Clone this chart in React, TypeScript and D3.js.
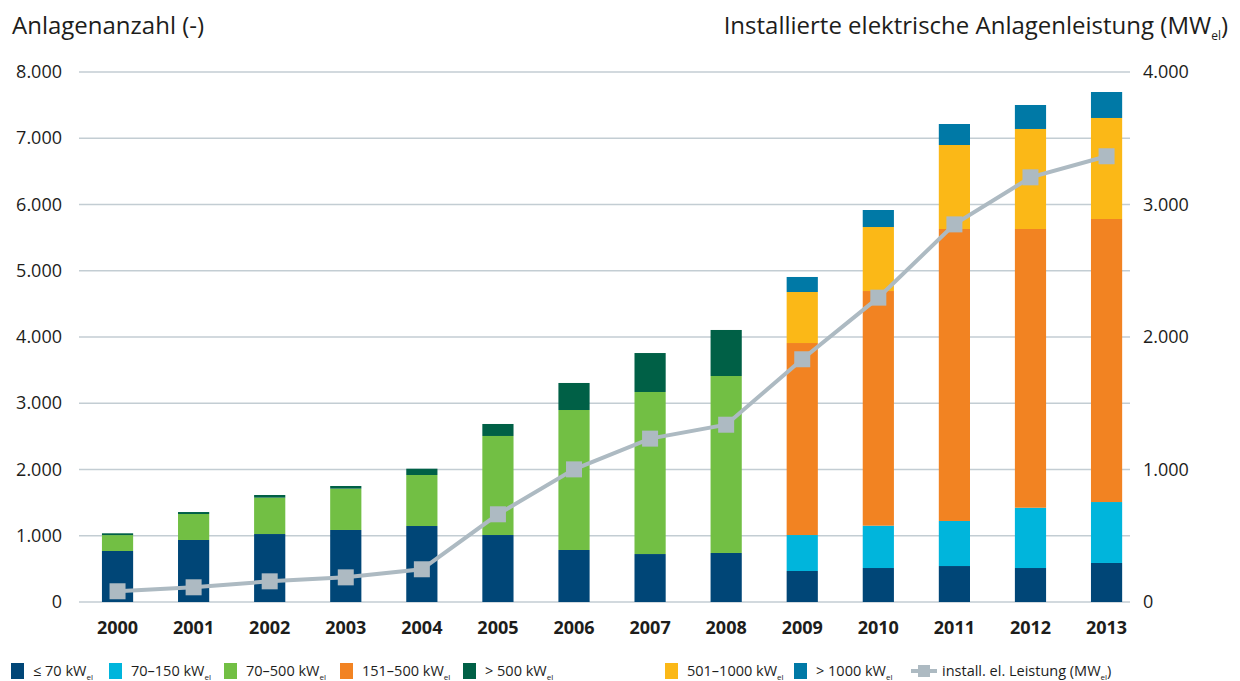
import React from "react";
import * as d3 from "d3";

const years = ["2000","2001","2002","2003","2004","2005","2006","2007","2008","2009","2010","2011","2012","2013"];
const s70 = [770, 936, 1026, 1087, 1147, 1011, 785, 724, 740, 468, 513, 543, 513, 589];
const s70to150 = [0, 0, 0, 0, 0, 0, 0, 0, 0, 543, 639, 680, 910, 920];
const s70to500 = [240, 392, 549, 624, 770, 1495, 2113, 2446, 2671, 0, 0, 0, 0, 0];
const s151to500 = [0, 0, 0, 0, 0, 0, 0, 0, 0, 2898, 3542, 4407, 4207, 4272];
const sOver500 = [27, 30, 40, 40, 95, 181, 408, 588, 695, 0, 0, 0, 0, 0];
const s501to1000 = [0, 0, 0, 0, 0, 0, 0, 0, 0, 770, 966, 1268, 1510, 1525];
const sOver1000 = [0, 0, 0, 0, 0, 0, 0, 0, 0, 227, 257, 317, 362, 392];
const leistung = [81, 111, 156, 186, 247, 662, 1001, 1233, 1338, 1832, 2297, 2850, 3205, 3364];
const leftTicks = [0, 1000, 2000, 3000, 4000, 5000, 6000, 7000, 8000];
const rightTicks = [0, 1000, 2000, 3000, 4000];

const seriesDefs = [
  { key: "a", label: "≤ 70 kW", values: s70, color: "#004677" },
  { key: "b", label: "70–150 kW", values: s70to150, color: "#00b5dc" },
  { key: "c", label: "70–500 kW", values: s70to500, color: "#72bf44" },
  { key: "d", label: "151–500 kW", values: s151to500, color: "#f28322" },
  { key: "e", label: "> 500 kW", values: sOver500, color: "#006046" },
  { key: "f", label: "501–1000 kW", values: s501to1000, color: "#fbb817" },
  { key: "g", label: "> 1000 kW", values: sOver1000, color: "#0079a6" },
];
const legendX = [11, 109, 224, 340, 463, 665, 794];
const lineColor = "#adbac2";
const gridColor = "#c3cdd3";
const font = "'Open Sans', sans-serif";
const textColor = "#1d1d1b";

export default function App() {
  const W = 1240, H = 681;
  const x = d3.scaleBand().domain(years).range([79.5, 1144.6]).paddingInner(0.59).paddingOuter(0.295);
  const yL = d3.scaleLinear().domain([0, 8000]).range([602, 72]);
  const yR = d3.scaleLinear().domain([0, 4000]).range([602, 72]);
  const rows = years.map((yr, i) => {
    const r: any = { year: yr };
    seriesDefs.forEach((s) => (r[s.key] = s.values[i]));
    return r;
  });
  const stacked = d3.stack().keys(seriesDefs.map((s) => s.key))(rows);
  const fmt = (v: number) => d3.format(",")(v).replace(/,/g, ".");
  const cx = (yr: string) => (x(yr) as number) + x.bandwidth() / 2;
  const line = d3.line<number>().x((_, i) => cx(years[i])).y((d) => yR(d));
  const ms = 16;

  return (
    <svg width={W} height={H} style={{ position: "absolute", left: 0, top: 0 }} fontFamily={font}>
      <rect width={W} height={H} fill="#fff" />
      <text x={12} y={34} fontSize={24} fill={textColor}>Anlagenanzahl (-)</text>
      <text x={1228} y={34} fontSize={24} fill={textColor} textAnchor="end">
        Installierte elektrische Anlagenleistung (MW<tspan fontSize={12} dy={6}>el</tspan><tspan dy={-6}>)</tspan>
      </text>
      {leftTicks.map((t) => (
        <g key={"g" + t}>
          <line x1={79} x2={1130} y1={yL(t)} y2={yL(t)} stroke={gridColor} strokeWidth={1.6} />
          <text x={62} y={yL(t) + 6} fontSize={18} textAnchor="end" fill={textColor}>{fmt(t)}</text>
        </g>
      ))}
      {rightTicks.map((t) => (
        <text key={"r" + t} x={1143} y={yR(t) + 6} fontSize={18} fill={textColor}>{fmt(t)}</text>
      ))}
      {stacked.map((layer, li) => (
        <g key={layer.key} fill={seriesDefs[li].color}>
          {layer.map((d, i) =>
            d[1] - d[0] > 0 ? (
              <rect key={i} x={x(years[i])} width={x.bandwidth()} y={yL(d[1])} height={yL(d[0]) - yL(d[1])} />
            ) : null
          )}
        </g>
      ))}
      <path d={line(leistung) || ""} fill="none" stroke={lineColor} strokeWidth={4} />
      {leistung.map((v, i) => (
        <rect key={"m" + i} x={cx(years[i]) - ms / 2} y={yR(v) - ms / 2} width={ms} height={ms} fill={lineColor} />
      ))}
      {years.map((yr) => (
        <text key={"x" + yr} x={cx(yr)} y={634} fontSize={18} fontWeight="bold" textAnchor="middle" fill={textColor}>{yr}</text>
      ))}
      {seriesDefs.map((s, i) => (
        <g key={"l" + s.key}>
          <rect x={legendX[i]} y={663} width={13} height={16} fill={s.color} />
          <text x={legendX[i] + 22} y={676} fontSize={14.5} fill={textColor}>
            {s.label}<tspan fontSize={8} dy={4}>el</tspan>
          </text>
        </g>
      ))}
      <g>
        <line x1={911} x2={937} y1={671} y2={671} stroke={lineColor} strokeWidth={4} />
        <rect x={918} y={665} width={12} height={12} fill={lineColor} />
        <text x={942} y={676} fontSize={14.5} fill={textColor}>
          install. el. Leistung (MW<tspan fontSize={8} dy={4}>el</tspan><tspan dy={-4}>)</tspan>
        </text>
      </g>
    </svg>
  );
}
